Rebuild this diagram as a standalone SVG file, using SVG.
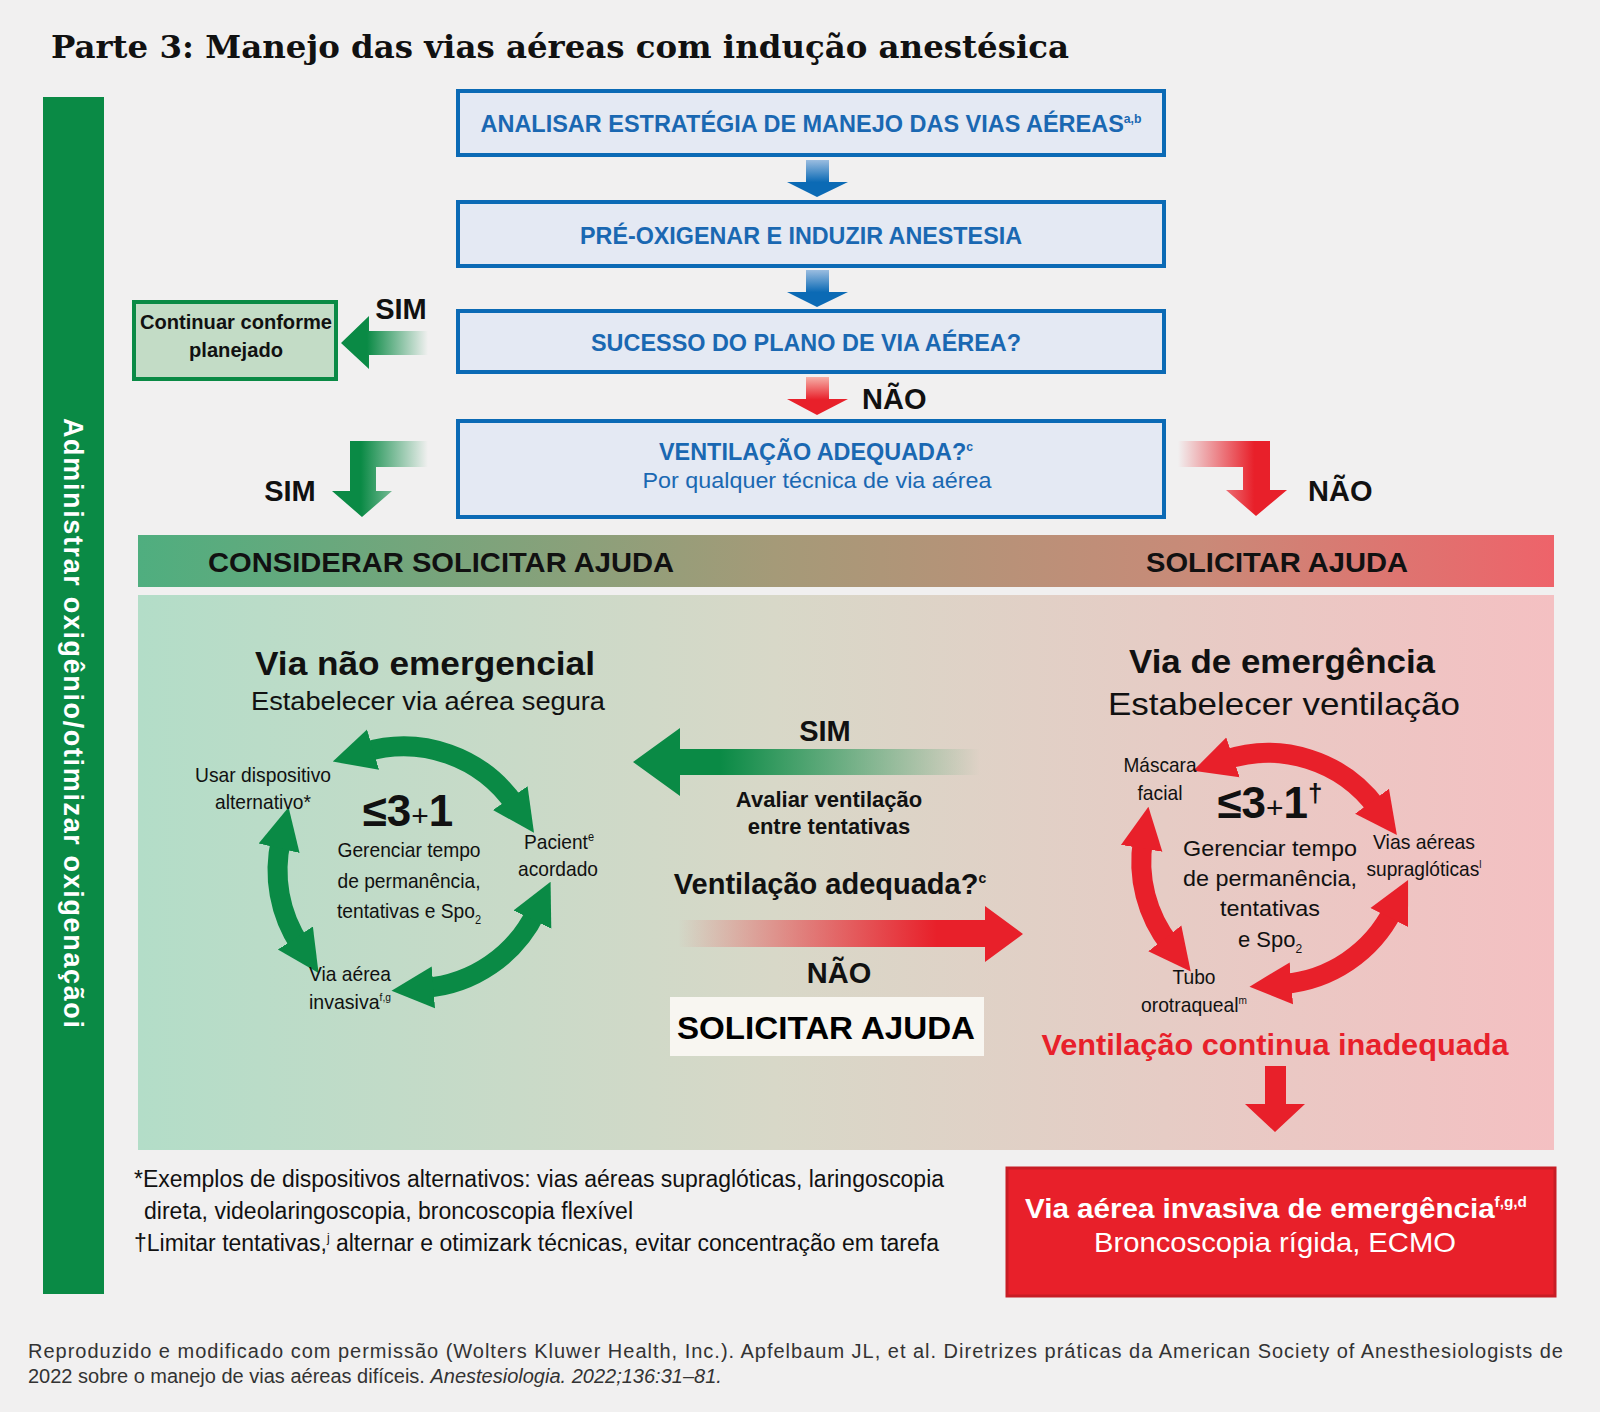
<svg xmlns="http://www.w3.org/2000/svg" width="1600" height="1412" viewBox="0 0 1600 1412">
<defs>
<style>
.s{font-family:"Liberation Sans",Arial,sans-serif}
.n{font-family:"Liberation Sans",Arial,sans-serif;font-size:21px}
.b{font-weight:bold}
.bx{fill:#e4e9f3;stroke:#0b6ab5;stroke-width:4}
.bt{fill:#1a68b2;font-size:23px;font-weight:bold;text-anchor:middle}
.c{text-anchor:middle}
</style>
<linearGradient id="band" x1="0" x2="1"><stop offset="0" stop-color="#4fae7f"/><stop offset="0.45" stop-color="#a59a78"/><stop offset="0.75" stop-color="#c98a78"/><stop offset="1" stop-color="#ee636a"/></linearGradient>
<linearGradient id="panel" x1="0" x2="1"><stop offset="0" stop-color="#b3ddc8"/><stop offset="0.45" stop-color="#d8d8c8"/><stop offset="1" stop-color="#f4c0c2"/></linearGradient>
<linearGradient id="blueV" x1="0" y1="0" x2="0" y2="1"><stop offset="0" stop-color="#9bbde0"/><stop offset="0.6" stop-color="#0b6ab5"/></linearGradient>
<linearGradient id="redV" x1="0" y1="0" x2="0" y2="1"><stop offset="0" stop-color="#f6b0a8"/><stop offset="0.6" stop-color="#e8202a"/></linearGradient>
<linearGradient id="greenL" x1="0" x2="1"><stop offset="0.3" stop-color="#0a8a45"/><stop offset="1" stop-color="#0a8a45" stop-opacity="0"/></linearGradient>
<linearGradient id="redR" x1="0" x2="1"><stop offset="0" stop-color="#e8202a" stop-opacity="0"/><stop offset="0.7" stop-color="#e8202a"/></linearGradient>
<linearGradient id="redMid" x1="0" x2="1"><stop offset="0" stop-color="#e8202a" stop-opacity="0"/><stop offset="0.75" stop-color="#e8202a"/></linearGradient>
<linearGradient id="greenMid" x1="0" x2="1"><stop offset="0.25" stop-color="#0a8a45"/><stop offset="1" stop-color="#0a8a45" stop-opacity="0"/></linearGradient>
<marker id="hg" viewBox="0 0 10 10" refX="2" refY="5" markerWidth="2.1" markerHeight="2.3" orient="auto-start-reverse"><path d="M0,0L10,5L0,10z" fill="#0a8a45"/></marker>
<marker id="hr" viewBox="0 0 10 10" refX="2" refY="5" markerWidth="2.1" markerHeight="2.3" orient="auto-start-reverse"><path d="M0,0L10,5L0,10z" fill="#e8202a"/></marker>
</defs>
<rect width="1600" height="1412" fill="#f1f0f0"/>
<text x="51" y="58" font-family="'DejaVu Serif',serif" font-weight="bold" font-size="31" textLength="1018" lengthAdjust="spacingAndGlyphs" fill="#111">Parte 3: Manejo das vias aéreas com indução anestésica</text>

<g id="sidebar"><rect x="43" y="97" width="61" height="1197" fill="#0a8a45"/>
<text transform="translate(64,418) rotate(90)" class="s b" font-size="27" fill="#fff" textLength="610">Administrar oxigênio/otimizar oxigenaçãoi</text></g>

<g id="box1"><rect class="bx" x="458" y="91" width="706" height="64"/><text class="s bt" x="811" y="132" textLength="661" lengthAdjust="spacingAndGlyphs">ANALISAR ESTRATÉGIA DE MANEJO DAS VIAS AÉREAS<tspan font-size="12" dy="-9">a,b</tspan></text></g>
<g id="box2"><rect class="bx" x="458" y="202" width="706" height="64"/><text class="s bt" x="801" y="244" textLength="442" lengthAdjust="spacingAndGlyphs">PRÉ-OXIGENAR E INDUZIR ANESTESIA</text></g>
<g id="box3"><rect class="bx" x="458" y="311" width="706" height="61"/><text class="s bt" x="806" y="351" textLength="430" lengthAdjust="spacingAndGlyphs">SUCESSO DO PLANO DE VIA AÉREA?</text></g>
<g id="box4"><rect class="bx" x="458" y="421" width="706" height="96"/><text class="s bt" x="816" y="460" textLength="314" lengthAdjust="spacingAndGlyphs">VENTILAÇÃO ADEQUADA?<tspan font-size="12" dy="-9">c</tspan></text><text class="s c" x="817" y="488" font-size="22" fill="#1a68b2" textLength="349" lengthAdjust="spacingAndGlyphs">Por qualquer técnica de via aérea</text></g>
<g id="continuar"><rect x="134" y="302" width="202" height="77" fill="#c3dcc6" stroke="#0a8a45" stroke-width="4"/><text class="n b c" x="236" y="329" fill="#111" textLength="192" lengthAdjust="spacingAndGlyphs">Continuar conforme</text><text class="n b c" x="236" y="357" fill="#111" textLength="94" lengthAdjust="spacingAndGlyphs">planejado</text></g>

<g id="band"><rect x="138" y="535" width="1416" height="52" fill="url(#band)"/><text class="s b" x="208" y="572" font-size="28" fill="#111" textLength="466" lengthAdjust="spacingAndGlyphs">CONSIDERAR SOLICITAR AJUDA</text><text class="s b" x="1146" y="572" font-size="28" fill="#111" textLength="262" lengthAdjust="spacingAndGlyphs">SOLICITAR AJUDA</text></g>
<g id="panel"><rect x="138" y="595" width="1416" height="555" fill="url(#panel)"/></g>

<g id="connectors">
<path d="M806,160H829V182H848L817,197L787,182H806Z" fill="url(#blueV)"/>
<path d="M806,270H829V292H848L817,307L787,292H806Z" fill="url(#blueV)"/>
<path d="M806,377H829V399H848L817,415L787,399H806Z" fill="url(#redV)"/>
<path d="M428,331H369V316L341,343L369,369V355H428Z" fill="url(#greenL)"/>
<path d="M428,441H350V491H332L362,517L392,491H376V467H428Z" fill="url(#greenL)"/>
<path d="M1178,441H1270V490H1287L1256,516L1226,490H1243V467H1178Z" fill="url(#redR)"/>
<path d="M980,749H680V728L633,762L680,796V775H980Z" fill="url(#greenMid)"/>
<path d="M678,920H985V906L1023,934L985,962V947H678Z" fill="url(#redMid)"/>
<path d="M1265,1066H1286V1104H1305L1275,1132L1245,1104H1265Z" fill="#e8202a"/>
<g fill="none" stroke="#0a8a45" stroke-width="20" marker-start="url(#hg)" marker-end="url(#hg)">
<path d="M365,752A135,135 0 0 1 515,805"/>
<path d="M536,912A135,135 0 0 1 425,988"/>
<path d="M281,840A135,135 0 0 0 300,945"/>
</g>
<g fill="none" stroke="#e8202a" stroke-width="20" marker-start="url(#hr)" marker-end="url(#hr)">
<path d="M1225,760A135,135 0 0 1 1377,808"/>
<path d="M1393,910A135,135 0 0 1 1283,984"/>
<path d="M1143,840A135,135 0 0 0 1170,945"/>
</g>
</g>

<g id="labels">
<text class="s b" x="401" y="319" font-size="29" fill="#111" text-anchor="middle">SIM</text>
<text class="s b" x="290" y="501" font-size="29" fill="#111" text-anchor="middle">SIM</text>
<text class="s b" x="862" y="409" font-size="29" fill="#111">NÃO</text>
<text class="s b" x="1308" y="501" font-size="29" fill="#111">NÃO</text>
</g>

<g id="left-path" fill="#111">
<text class="s b c" x="425" y="675" font-size="33" textLength="340" lengthAdjust="spacingAndGlyphs">Via não emergencial</text>
<text class="s c" x="428" y="710" font-size="26" textLength="354" lengthAdjust="spacingAndGlyphs">Estabelecer via aérea segura</text>
<text class="n c" x="263" y="782" textLength="136" lengthAdjust="spacingAndGlyphs">Usar dispositivo</text>
<text class="n c" x="263" y="809" textLength="96" lengthAdjust="spacingAndGlyphs">alternativo*</text>
<text class="s b c" x="408" y="826" font-size="44">≤3<tspan font-size="30" font-weight="normal">+</tspan>1</text>
<text class="n c" x="409" y="857" textLength="143" lengthAdjust="spacingAndGlyphs">Gerenciar tempo</text>
<text class="n c" x="409" y="888" textLength="143" lengthAdjust="spacingAndGlyphs">de permanência,</text>
<text class="n c" x="409" y="918" textLength="144" lengthAdjust="spacingAndGlyphs">tentativas e Spo<tspan font-size="12" dy="6">2</tspan></text>
<text class="n c" x="559" y="849" textLength="70" lengthAdjust="spacingAndGlyphs">Pacient<tspan font-size="12" dy="-8">e</tspan></text>
<text class="n c" x="558" y="876" textLength="80" lengthAdjust="spacingAndGlyphs">acordado</text>
<text class="n c" x="350" y="981" textLength="82" lengthAdjust="spacingAndGlyphs">Via aérea</text>
<text class="n c" x="350" y="1009" textLength="82" lengthAdjust="spacingAndGlyphs">invasiva<tspan font-size="11" dy="-8">f,g</tspan></text>
</g>

<g id="middle" fill="#111">
<text class="s b c" x="825" y="741" font-size="29">SIM</text>
<text class="s b c" x="829" y="807" font-size="22">Avaliar ventilação</text>
<text class="s b c" x="829" y="834" font-size="22">entre tentativas</text>
<text class="s b c" x="830" y="894" font-size="29">Ventilação adequada?<tspan font-size="14" dy="-11">c</tspan></text>
<text class="s b c" x="839" y="983" font-size="29">NÃO</text>
<rect x="670" y="997" width="314" height="59" fill="#f8f6f1"/>
<text class="s b c" x="826" y="1039" font-size="31" fill="#000" textLength="298" lengthAdjust="spacingAndGlyphs">SOLICITAR AJUDA</text>
</g>

<g id="right-path" fill="#111">
<text class="s b c" x="1282" y="673" font-size="33" textLength="306" lengthAdjust="spacingAndGlyphs">Via de emergência</text>
<text class="s c" x="1284" y="715" font-size="32" textLength="352" lengthAdjust="spacingAndGlyphs">Estabelecer ventilação</text>
<text class="n c" x="1160" y="772" textLength="73" lengthAdjust="spacingAndGlyphs">Máscara</text>
<text class="n c" x="1160" y="800" textLength="45" lengthAdjust="spacingAndGlyphs">facial</text>
<text class="s b c" x="1270" y="818" font-size="44">≤3<tspan font-size="30" font-weight="normal">+</tspan>1<tspan font-size="26" dy="-16">†</tspan></text>
<text class="s c" x="1270" y="856" font-size="22" textLength="174" lengthAdjust="spacingAndGlyphs">Gerenciar tempo</text>
<text class="s c" x="1270" y="886" font-size="22" textLength="174" lengthAdjust="spacingAndGlyphs">de permanência,</text>
<text class="s c" x="1270" y="916" font-size="22" textLength="100" lengthAdjust="spacingAndGlyphs">tentativas</text>
<text class="s c" x="1270" y="947" font-size="22">e Spo<tspan font-size="12" dy="6">2</tspan></text>
<text class="n c" x="1424" y="849" textLength="102" lengthAdjust="spacingAndGlyphs">Vias aéreas</text>
<text class="n c" x="1424" y="876" textLength="115" lengthAdjust="spacingAndGlyphs">supraglóticas<tspan font-size="11" dy="-8">l</tspan></text>
<text class="n c" x="1194" y="984" textLength="43" lengthAdjust="spacingAndGlyphs">Tubo</text>
<text class="n c" x="1194" y="1012" textLength="106" lengthAdjust="spacingAndGlyphs">orotraqueal<tspan font-size="11" dy="-8">m</tspan></text>
<text class="s b c" x="1275" y="1055" font-size="29" fill="#e8202a" textLength="467" lengthAdjust="spacingAndGlyphs">Ventilação continua inadequada</text>
</g>

<g id="invasiva"><rect x="1007" y="1168" width="548" height="128" fill="#e8202a" stroke="#c81c24" stroke-width="3"/>
<text class="s b c" x="1276" y="1218" font-size="27" fill="#fff" textLength="502" lengthAdjust="spacingAndGlyphs">Via aérea invasiva de emergência<tspan font-size="14" dy="-11">f,g,d</tspan></text>
<text class="s c" x="1275" y="1252" font-size="28" fill="#fff" textLength="362" lengthAdjust="spacingAndGlyphs">Broncoscopia rígida, ECMO</text></g>

<g id="notes" fill="#111">
<text class="s" x="134" y="1187" font-size="23" textLength="810" lengthAdjust="spacingAndGlyphs">*Exemplos de dispositivos alternativos: vias aéreas supraglóticas, laringoscopia</text>
<text class="s" x="144" y="1219" font-size="23" textLength="489" lengthAdjust="spacingAndGlyphs">direta, videolaringoscopia, broncoscopia flexível</text>
<text class="s" x="134" y="1251" font-size="23" textLength="805" lengthAdjust="spacingAndGlyphs">†Limitar tentativas,<tspan font-size="12" dy="-9">j</tspan><tspan dy="9"> alternar e otimizark técnicas, evitar concentração em tarefa</tspan></text>
<text class="s" x="28" y="1358" font-size="20" fill="#333" textLength="1535">Reproduzido e modificado com permissão (Wolters Kluwer Health, Inc.). Apfelbaum JL, et al. Diretrizes práticas da American Society of Anesthesiologists de</text>
<text class="s" x="28" y="1383" font-size="20" fill="#333">2022 sobre o manejo de vias aéreas difíceis. <tspan font-style="italic">Anestesiologia. 2022;136:31–81.</tspan></text>
</g>
</svg>
